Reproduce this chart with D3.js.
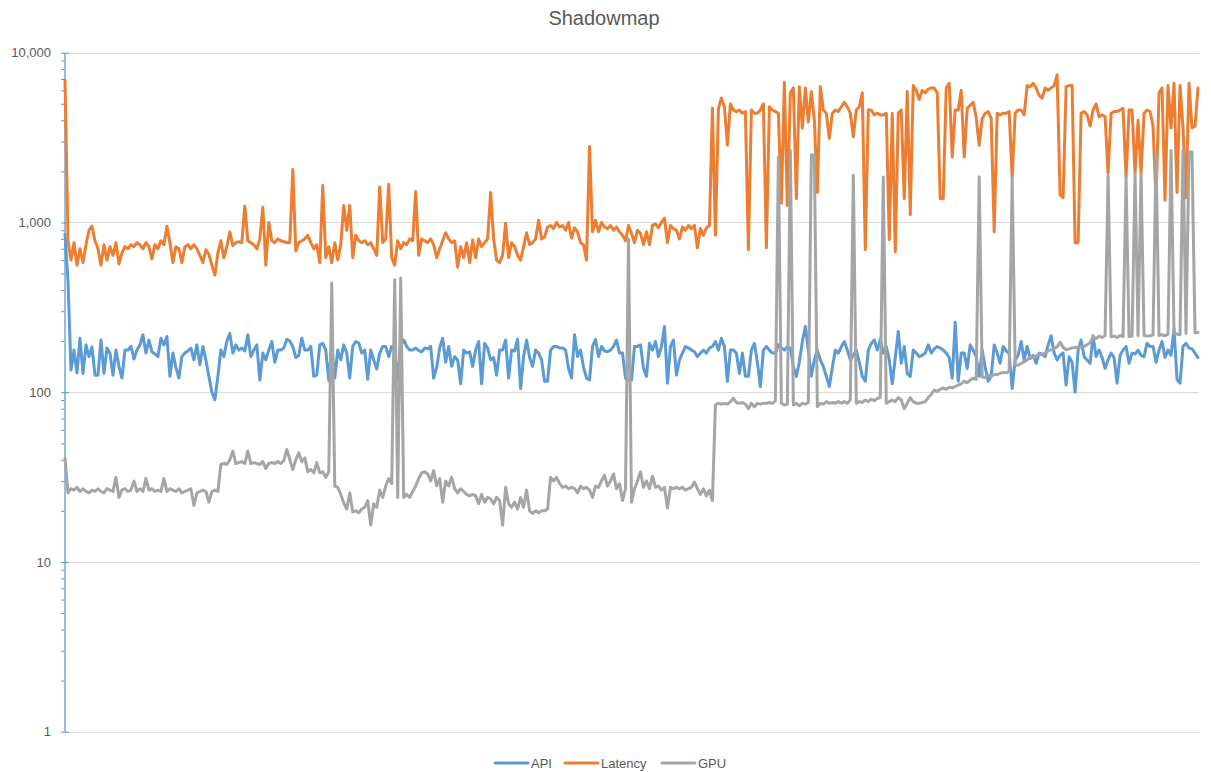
<!DOCTYPE html>
<html>
<head>
<meta charset="utf-8">
<script src="https://cdn.jsdelivr.net/npm/d3@7/dist/d3.min.js"></script>
<style>
  html, body { margin: 0; padding: 0; background: #fff; }
  svg { display: block; font-family: "Liberation Sans", Arial, sans-serif; }
</style>
</head>
<body>
<svg id="chart" width="1211" height="772"></svg>
<script>
// series names, one value per sample (sample index is the x position)
var seriesNames = ["API", "Latency", "GPU"];
var seriesColors = ["#5B9BD5", "#ED7D31", "#A5A5A5"];
var majorTicks = [1, 10, 100, 1000, 10000];

var apiValues = [
  850, 450, 135, 177, 130, 208, 129, 190, 162, 185, 126, 126, 203, 129, 182, 170, 126, 177, 142, 121,
  177, 177, 186, 157, 177, 190, 218, 170, 203, 173, 168, 162, 208, 190, 213, 124, 170, 140, 121, 162,
  170, 175, 182, 155, 190, 145, 186, 155, 124, 100, 90, 124, 177, 162, 200, 222, 170, 190, 177, 182,
  175, 218, 162, 177, 190, 118, 170, 155, 177, 199, 150, 177, 177, 182, 205, 200, 186, 160, 165, 208,
  177, 177, 186, 124, 126, 190, 194, 177, 117, 186, 121, 177, 155, 190, 170, 121, 186, 199, 195, 170,
  177, 119, 177, 155, 137, 170, 186, 186, 162, 186, 175, 118, 190, 203, 186, 177, 177, 182, 176, 173,
  182, 180, 186, 121, 140, 182, 208, 150, 186, 142, 162, 155, 112, 177, 170, 173, 142, 177, 199, 112,
  194, 182, 155, 160, 126, 177, 177, 203, 121, 177, 175, 205, 105, 162, 203, 160, 142, 177, 170, 155,
  116, 116, 177, 186, 186, 182, 182, 177, 138, 121, 218, 162, 177, 140, 121, 118, 186, 205, 162, 186,
  175, 173, 177, 186, 203, 170, 170, 121, 118, 118, 186, 186, 190, 138, 124, 194, 177, 199, 162, 186,
  244, 113, 186, 203, 126, 155, 170, 186, 182, 177, 173, 162, 170, 177, 170, 182, 186, 199, 177, 208,
  186, 116, 177, 177, 170, 129, 170, 124, 124, 177, 194, 150, 108, 177, 186, 177, 170, 170, 190, 182,
  177, 186, 182, 142, 124, 150, 199, 244, 177, 124, 155, 177, 155, 142, 124, 108, 140, 177, 170, 185,
  199, 177, 155, 165, 177, 150, 124, 116, 177, 194, 203, 177, 205, 170, 186, 155, 112, 160, 228, 148,
  186, 129, 124, 177, 170, 162, 165, 170, 190, 170, 180, 186, 182, 177, 170, 160, 121, 258, 116, 170,
  170, 138, 190, 177, 162, 124, 177, 140, 116, 124, 190, 170, 148, 186, 175, 170, 105, 155, 165, 199,
  155, 186, 158, 165, 148, 170, 168, 162, 190, 215, 170, 155, 165, 170, 110, 162, 150, 100, 177, 203,
  162, 155, 148, 215, 162, 177, 160, 138, 155, 170, 160, 113, 165, 177, 186, 148, 170, 168, 177, 165,
  162, 194, 186, 186, 150, 177, 199, 160, 177, 165, 237, 119, 113, 186, 194, 182, 180, 170, 160
];

var latencyValues = [
  6900, 780, 600, 760, 560, 700, 580, 740, 900, 950, 780, 700, 560, 740, 600, 720, 640, 760, 570, 660,
  720, 700, 740, 720, 760, 740, 700, 760, 720, 610, 740, 700, 780, 740, 950, 760, 580, 720, 700, 580,
  720, 740, 700, 740, 700, 640, 580, 690, 650, 560, 490, 660, 780, 620, 720, 880, 730, 760, 770, 760,
  1250, 780, 760, 740, 700, 800, 1230, 560, 1000, 780, 760, 800, 780, 770, 760, 760, 2050, 680, 760, 780,
  800, 840, 760, 700, 740, 580, 1650, 620, 720, 580, 760, 600, 740, 1260, 900, 1260, 620, 840, 780, 760,
  780, 740, 760, 700, 640, 1620, 760, 800, 1680, 620, 560, 780, 700, 760, 740, 800, 780, 1520, 640, 800,
  780, 760, 800, 740, 620, 700, 780, 870, 800, 760, 780, 545, 720, 620, 760, 580, 790, 620, 800, 720,
  760, 800, 1500, 800, 600, 580, 640, 990, 620, 760, 720, 640, 600, 720, 870, 740, 760, 800, 1030, 800,
  820, 940, 960, 920, 1000, 940, 960, 900, 1000, 810, 930, 880, 760, 740, 600, 2800, 880, 1030, 880, 1000,
  940, 920, 960, 900, 940, 880, 840, 780, 960, 860, 760, 900, 860, 740, 880, 740, 960, 980, 930, 1000,
  1060, 760, 960, 920, 900, 800, 940, 900, 960, 920, 960, 710, 920, 840, 930, 960, 4700, 840, 4700, 5400,
  4800, 2850, 5000, 4600, 4500, 4600, 4400, 4500, 690, 4600, 4400, 4400, 4600, 5000, 710, 4800, 4600, 4500, 4400, 1300,
  6700, 1260, 5800, 6200, 1380, 6300, 3600, 6200, 3900, 5900, 4000, 1500, 6300, 4600, 4400, 3130, 4400, 4600, 4500, 4800,
  5100, 4800, 4400, 3200, 4600, 4800, 5800, 690, 4600, 4600, 4300, 4400, 4300, 4300, 4400, 790, 4400, 670, 4400, 4600,
  1380, 5900, 1110, 6400, 6000, 5300, 6000, 5800, 6100, 6200, 6200, 5800, 1380, 1380, 6200, 6600, 2430, 4600, 4600, 6000,
  2430, 4700, 4900, 5100, 4150, 2850, 4100, 4400, 4500, 4100, 880, 4400, 4300, 4400, 4400, 4500, 1850, 4400, 4600, 4600,
  4300, 6400, 6300, 6600, 6200, 5600, 5400, 6200, 6000, 6200, 6400, 7400, 1450, 1400, 6300, 6400, 6400, 760, 760, 4400,
  4500, 4300, 3700, 4600, 5000, 4200, 4300, 4200, 1950, 4400, 4500, 4500, 4600, 4700, 1850, 4600, 4600, 1950, 4000, 1950,
  4400, 4600, 4500, 3700, 1330, 5800, 6200, 1350, 6400, 3600, 6600, 1500, 6400, 3600, 1400, 6600, 3600, 3700, 6200
];

var gpuValues = [
  41, 25.5, 27, 26.5, 27.5, 26, 27, 26, 25.5, 26.5, 26, 27, 26, 25.5, 27, 26.5, 26, 31.5, 24, 26.5,
  27, 26, 26.5, 30, 26, 27, 26, 31, 26.5, 27, 26, 26.5, 26, 31, 26, 27, 26.5, 26, 27, 25.5,
  26, 26.5, 27, 21.5, 25.5, 26, 26.5, 26, 22.5, 26, 26.5, 26, 37.5, 38, 37.5, 40, 45, 38, 38.5, 39,
  38, 45, 38, 38.5, 38, 37.5, 39, 35.5, 38, 38.5, 38, 39, 38, 39.5, 46, 40, 35, 40, 44, 39,
  41, 34, 35, 33.5, 38.5, 33.5, 34, 31.5, 34, 440, 28, 27.5, 25, 22.3, 20.5, 25.5, 19.7, 20, 19.5, 20.5,
  21, 23, 16.5, 22, 21, 26.5, 24, 28, 31, 29, 460, 24, 470, 24, 25, 24, 26, 28, 31, 33.5,
  34, 33, 30, 34.5, 28, 31, 22.5, 30, 28, 31.5, 27, 25.5, 27, 26, 25, 24.5, 25, 24.5, 22, 25,
  22.5, 24, 23.5, 22, 24, 23, 16.5, 27.5, 22, 21, 22.5, 20.5, 24, 21, 26.5, 20, 19.3, 20, 19.5, 20,
  20, 20.5, 31.5, 30, 31.5, 29, 27.5, 28, 27, 27.5, 27, 25.5, 28, 27, 27.5, 26.5, 24, 28, 27.5, 30,
  32.5, 28, 30, 33, 27, 29, 23, 27, 800, 22.5, 27, 30, 34, 27.5, 30, 27, 32, 27.5, 28, 26.5,
  27.5, 20.8, 27.5, 27, 27.5, 27, 27.5, 26.5, 27, 27.5, 29.5, 27, 25, 27, 24.5, 26.5, 23, 84, 86, 85,
  86, 85, 88, 92, 87, 86, 87, 85, 80, 86, 82, 86, 85, 86, 86, 87, 86, 89, 2430, 86,
  84, 85, 2650, 84, 86, 83, 86, 85, 87, 2500, 2500, 82, 86, 85, 88, 86, 87, 86, 88, 86,
  88, 86, 90, 1900, 86, 88, 87, 90, 88, 91, 89, 92, 93, 1850, 86, 88, 90, 88, 93, 90,
  80, 86, 93, 88, 86, 86, 87, 88, 93, 97, 103, 101, 104, 106, 104, 107, 106, 108, 110, 112,
  116, 114, 118, 121, 119, 1850, 123, 122, 126, 124, 127, 127, 129, 131, 130, 133, 1850, 145, 144, 148,
  151, 155, 162, 160, 164, 168, 166, 170, 175, 178, 180, 185, 197, 184, 178, 180, 182, 184, 183, 185,
  186, 190, 196, 212, 207, 214, 210, 216, 1900, 212, 214, 210, 216, 213, 1850, 212, 214, 1950, 215, 1950,
  216, 214, 215, 218, 2550, 216, 218, 215, 220, 2650, 222, 220, 218, 2650, 222, 2600, 2600, 224, 225
];

var allSeries = [apiValues, latencyValues, gpuValues];

var svg = d3.select("#chart");
var plotLeft = 64.5, plotRight = 1199, plotTop = 52.7, plotBottom = 731.7;

var x = d3.scaleLinear()
    .domain([0, apiValues.length - 1])
    .range([plotLeft + 0.5, plotRight - 1]);

var y = d3.scaleLog()
    .domain([1, 10000])
    .range([plotBottom, plotTop]);

// title
svg.append("text")
    .attr("x", 604)
    .attr("y", 25)
    .attr("text-anchor", "middle")
    .attr("font-size", 20)
    .attr("fill", "#595959")
    .text("Shadowmap");

// gridlines
svg.append("g").selectAll("line")
    .data(majorTicks)
    .enter().append("line")
    .attr("x1", plotLeft)
    .attr("x2", plotRight)
    .attr("y1", function (d) { return Math.round(y(d)) + 0.5; })
    .attr("y2", function (d) { return Math.round(y(d)) + 0.5; })
    .attr("stroke", "#D9D9D9")
    .attr("stroke-width", 1);

// minor ticks (2..9 of each decade)
var minorTicks = [];
majorTicks.slice(0, -1).forEach(function (m) {
    for (var k = 2; k <= 9; k++) minorTicks.push(m * k);
});

var minorAxis = svg.append("g")
    .attr("transform", "translate(" + plotLeft + ",0)")
    .call(d3.axisLeft(y).tickValues(minorTicks).tickFormat("").tickSize(3.5).tickSizeOuter(0));
minorAxis.select(".domain").remove();
minorAxis.selectAll("line").attr("stroke", "#5B9BD5");

var majorAxis = svg.append("g")
    .attr("transform", "translate(" + plotLeft + ",0)")
    .call(d3.axisLeft(y).tickValues(majorTicks).tickFormat(d3.format(",")).tickSize(3.5).tickSizeOuter(0).tickPadding(10));
majorAxis.select(".domain").attr("stroke", "#5B9BD5").attr("stroke-width", 1.3);
majorAxis.selectAll(".tick line").attr("stroke", "#5B9BD5").attr("x1", 4.5);
majorAxis.selectAll(".tick text")
    .attr("font-family", "Liberation Sans, Arial, sans-serif")
    .attr("font-size", 13)
    .attr("fill", "#595959");

// series lines
var line = d3.line()
    .x(function (d, i) { return x(i); })
    .y(function (d) { return y(d); });

svg.append("g").selectAll("path")
    .data(allSeries)
    .enter().append("path")
    .attr("d", line)
    .attr("fill", "none")
    .attr("stroke", function (d, i) { return seriesColors[i]; })
    .attr("stroke-width", 3)
    .attr("stroke-linejoin", "round")
    .attr("stroke-linecap", "round");

// legend
var legendX = [495, 565, 662];
var legend = svg.append("g").selectAll("g")
    .data(seriesNames)
    .enter().append("g")
    .attr("transform", function (d, i) { return "translate(" + legendX[i] + ",763)"; });

legend.append("line")
    .attr("x1", 0).attr("x2", 33)
    .attr("stroke", function (d, i) { return seriesColors[i]; })
    .attr("stroke-width", 3)
    .attr("stroke-linecap", "round");

legend.append("text")
    .attr("x", 36)
    .attr("y", 4.5)
    .attr("font-size", 13)
    .attr("fill", "#595959")
    .text(function (d) { return d; });
</script>
</body>
</html>
